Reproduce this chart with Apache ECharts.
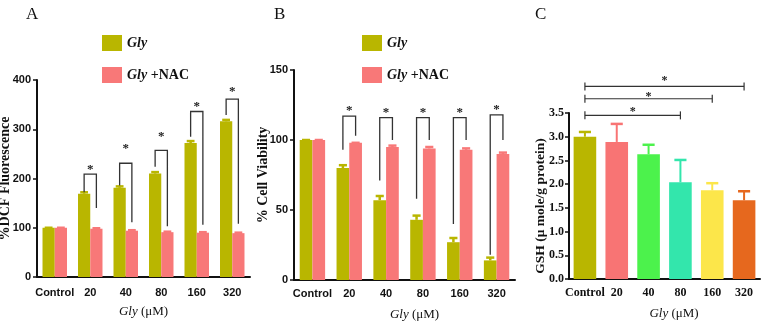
<!DOCTYPE html>
<html>
<head>
<meta charset="utf-8">
<script src="https://cdn.jsdelivr.net/npm/echarts@6/dist/echarts.min.js"></script>
<style>
  html, body { margin: 0; padding: 0; background: #fff; }
  #main { width: 762px; height: 327px; }
</style>
</head>
<body>
<div id="main"></div>
<script>
// categories shared by the three panels
const categories = ['Control', '20', '40', '80', '160', '320'];

// panel A: %DCF fluorescence
const dcfGly = [100, 169, 181, 210, 272, 316];
const dcfGlyErr = [0, 3, 3, 3, 4, 3];
const dcfNac = [100, 98, 94, 91, 90, 89];
const dcfNacErr = [0, 1, 1, 1, 1, 1];
const dcfBracketTop = [null, 209, 231, 257, 336, 361];
const dcfBracketLeft = [null, 172, 186, 224, 285, 329];
const dcfBracketRight = [null, 140, 111, 103, 106, 108];
const dcfStar = [null, 224, 266, 292, 353, 383];

// panel B: % cell viability
const viaGly = [100, 80, 57, 43, 27, 14];
const viaGlyErr = [0, 2, 3, 3, 3, 2];
const viaNac = [100, 98, 95, 94, 93, 90];
const viaNacErr = [0, 0, 1, 1, 1, 1];
const viaBracketTop = [null, 117, 116, 116, 116, 118];
const viaBracketLeft = [null, 93, 71, 58, 40, 18];
const viaBracketRight = [null, 103, 100, 100, 100, 100];
const viaStar = [null, 123, 122, 122, 122, 124];

// panel C: GSH
const gsh = [3.0, 2.89, 2.63, 2.04, 1.87, 1.66];
const gshErr = [0.1, 0.38, 0.2, 0.47, 0.15, 0.19];
const gshColors = ['#B9B600', '#F87474', '#4CF24C', '#33E6AC', '#FCE64A', '#E6681E'];
// significance lines: from Control to category index, at height, star height
const gshSigEnd = [5, 4, 3];
const gshSigY = [4.06, 3.8, 3.45];
const gshSigStar = [4.24, 3.9, 3.59];

const GLY = '#B9B600';
const NAC = '#F87878';
const SERIF = "'Liberation Serif', 'Times New Roman', serif";
const SANS = "'Liberation Sans Narrow', 'Liberation Sans', Arial, sans-serif";
const HALF = 0.1725; // bar centre offset as a share of the band width

const chart = echarts.init(document.getElementById('main'), null, { renderer: 'canvas' });

function errBars(side, capShare, width) {
  return function (params, api) {
    const c = api.value(0);
    const v = api.value(1);
    const e = api.value(2);
    const bw = api.size([1, 0])[0];
    const p0 = api.coord([c, v]);
    const p1 = api.coord([c, v + e]);
    const x = p0[0] + side * bw * HALF;
    const cap = bw * capShare / 2;
    return {
      type: 'group',
      children: [
        { type: 'line', shape: { x1: x, y1: p0[1], x2: x, y2: p1[1] }, style: { stroke: api.visual('color'), lineWidth: width } },
        { type: 'line', shape: { x1: x - cap, y1: p1[1], x2: x + cap, y2: p1[1] }, style: { stroke: api.visual('color'), lineWidth: width } }
      ]
    };
  };
}

function bracket(params, api) {
  const c = api.value(0);
  const top = api.coord([c, api.value(1)]);
  const yl = api.coord([c, api.value(2)])[1];
  const yr = api.coord([c, api.value(3)])[1];
  const ys = api.coord([c, api.value(4)])[1];
  const bw = api.size([1, 0])[0];
  const xl = top[0] - bw * HALF;
  const xr = top[0] + bw * HALF;
  return {
    type: 'group',
    children: [
      { type: 'polyline', shape: { points: [[xl, yl], [xl, top[1]], [xr, top[1]], [xr, yr]] },
        style: { stroke: '#333', lineWidth: 1.3, fill: null } },
      { type: 'text', style: { text: '*', x: (xl + xr) / 2, y: ys + 3, align: 'center', verticalAlign: 'middle',
        font: 'bold 13px ' + SERIF, fill: '#222' } }
    ]
  };
}

function sigLine(params, api) {
  const a = api.coord([0, api.value(1)]);
  const b = api.coord([api.value(0), api.value(1)]);
  const s = api.coord([0, api.value(2)]);
  return {
    type: 'group',
    children: [
      { type: 'line', shape: { x1: a[0], y1: a[1], x2: b[0], y2: b[1] }, style: { stroke: '#333', lineWidth: 1.2 } },
      { type: 'line', shape: { x1: a[0], y1: a[1] - 4, x2: a[0], y2: a[1] + 4 }, style: { stroke: '#333', lineWidth: 1.2 } },
      { type: 'line', shape: { x1: b[0], y1: b[1] - 4, x2: b[0], y2: b[1] + 4 }, style: { stroke: '#333', lineWidth: 1.2 } },
      { type: 'text', style: { text: '*', x: (a[0] + b[0]) / 2, y: s[1] + 3, align: 'center', verticalAlign: 'middle',
        font: 'bold 12px ' + SERIF, fill: '#222' } }
    ]
  };
}

const pick = (arr, ...rest) => arr.map((v, i) => [i, v, ...rest.map(r => r[i])]).filter(d => d[1] != null);

const xBase = (gridIndex, extra) => Object.assign({
  type: 'category',
  gridIndex: gridIndex,
  data: categories,
  axisTick: { show: false },
  axisLine: { lineStyle: { color: '#111', width: 2 } },
  axisLabel: { color: '#111', fontFamily: SANS, fontWeight: 'bold', fontSize: 11, margin: 10, interval: 0 },
  name: '{i|Gly} (μM)',
  nameLocation: 'middle',
  nameGap: 28,
  nameMoveOverlap: false,
  nameTextStyle: { color: '#111', fontFamily: SERIF, fontSize: 13, rich: { i: { fontStyle: 'italic', fontFamily: SERIF, fontSize: 13, color: '#111' } } }
}, extra || {});

const yBase = (gridIndex, max, interval, name, gap, extra) => Object.assign({
  type: 'value',
  gridIndex: gridIndex,
  min: 0,
  max: max,
  interval: interval,
  splitLine: { show: false },
  axisLine: { show: true, lineStyle: { color: '#111', width: 2 } },
  axisTick: { show: true, length: 4, lineStyle: { color: '#111', width: 1.5 } },
  axisLabel: { color: '#111', fontFamily: SANS, fontWeight: 'bold', fontSize: 11, margin: 6 },
  name: name,
  nameLocation: 'middle',
  nameGap: gap,
  nameMoveOverlap: false,
  nameTextStyle: { color: '#111', fontFamily: SERIF, fontWeight: 'bold', fontSize: 14 }
}, extra || {});

const legendBase = (left) => ({
  data: ['Gly', 'Gly +NAC'],
  orient: 'vertical',
  left: left,
  top: 30,
  itemWidth: 20,
  itemHeight: 16,
  itemGap: 16,
  icon: 'rect',
  formatter: (n) => n === 'Gly' ? '{i|Gly}' : '{i|Gly} +NAC',
  textStyle: {
    color: '#111', fontFamily: SERIF, fontWeight: 'bold', fontSize: 14,
    rich: { i: { fontStyle: 'italic', fontWeight: 'bold', fontFamily: SERIF, fontSize: 14, color: '#111' } }
  }
});

const option = {
  animation: false,
  backgroundColor: '#fff',
  title: [
    { text: 'A', left: 21, top: 1, textStyle: { fontFamily: SERIF, fontWeight: 'normal', fontSize: 17, color: '#111' } },
    { text: 'B', left: 269, top: 1, textStyle: { fontFamily: SERIF, fontWeight: 'normal', fontSize: 17, color: '#111' } },
    { text: 'C', left: 530, top: 1, textStyle: { fontFamily: SERIF, fontWeight: 'normal', fontSize: 17, color: '#111' } }
  ],
  legend: [legendBase(97), legendBase(357)],
  grid: [
    { left: 37, top: 80, width: 213, height: 197, outerBoundsMode: 'none' },
    { left: 294, top: 70, width: 221, height: 210, outerBoundsMode: 'none' },
    { left: 569, top: 113, width: 191, height: 166, outerBoundsMode: 'none' }
  ],
  xAxis: [
    xBase(0),
    xBase(1, { axisLabel: { color: '#111', fontFamily: SANS, fontWeight: 'bold', fontSize: 11, margin: 8, interval: 0 },
      nameTextStyle: { color: '#111', fontFamily: SERIF, fontSize: 13, padding: [0, 0, 0, 20],
      rich: { i: { fontStyle: 'italic', fontFamily: SERIF, fontSize: 13, color: '#111' } } } }),
    xBase(2, { axisLabel: { color: '#111', fontFamily: SERIF, fontWeight: 'bold', fontSize: 12, margin: 8, interval: 0 },
      nameTextStyle: { color: '#111', fontFamily: SERIF, fontSize: 13, padding: [0, 0, 0, 19],
      rich: { i: { fontStyle: 'italic', fontFamily: SERIF, fontSize: 13, color: '#111' } } } })
  ],
  yAxis: [
    yBase(0, 400, 100, '%DCF Fluorescence', 25),
    yBase(1, 150, 50, '% Cell Viability', 24),
    yBase(2, 3.5, 0.5, 'GSH (μ mole/g protein)', 21, {
      axisLabel: { color: '#111', fontFamily: SERIF, fontWeight: 'bold', fontSize: 12, margin: 5, formatter: (v) => v.toFixed(1) },
      nameTextStyle: { color: '#111', fontFamily: SERIF, fontWeight: 'bold', fontSize: 13.5, padding: [0, 20, 0, 0] }
    })
  ],
  series: [
    { name: 'Gly', type: 'bar', xAxisIndex: 0, yAxisIndex: 0, data: dcfGly, barGap: '0%', barCategoryGap: '31%', itemStyle: { color: GLY } },
    { name: 'Gly +NAC', type: 'bar', xAxisIndex: 0, yAxisIndex: 0, data: dcfNac, barGap: '0%', barCategoryGap: '31%', itemStyle: { color: NAC } },
    { name: 'Gly', type: 'bar', xAxisIndex: 1, yAxisIndex: 1, data: viaGly, barGap: '0%', barCategoryGap: '31%', itemStyle: { color: GLY } },
    { name: 'Gly +NAC', type: 'bar', xAxisIndex: 1, yAxisIndex: 1, data: viaNac, barGap: '0%', barCategoryGap: '31%', itemStyle: { color: NAC } },
    { name: 'GSH', type: 'bar', xAxisIndex: 2, yAxisIndex: 2, barCategoryGap: '29%',
      data: gsh.map((v, i) => ({ value: v, itemStyle: { color: gshColors[i] } })) },

    { name: 'errA1', type: 'custom', xAxisIndex: 0, yAxisIndex: 0, z: 3, itemStyle: { color: GLY },
      renderItem: errBars(-1, 0.22, 2.5), data: pick(dcfGly, dcfGlyErr) },
    { name: 'errA2', type: 'custom', xAxisIndex: 0, yAxisIndex: 0, z: 3, itemStyle: { color: NAC },
      renderItem: errBars(1, 0.22, 2.5), data: pick(dcfNac, dcfNacErr) },
    { name: 'errB1', type: 'custom', xAxisIndex: 1, yAxisIndex: 1, z: 3, itemStyle: { color: GLY },
      renderItem: errBars(-1, 0.22, 2.5), data: pick(viaGly, viaGlyErr) },
    { name: 'errB2', type: 'custom', xAxisIndex: 1, yAxisIndex: 1, z: 3, itemStyle: { color: NAC },
      renderItem: errBars(1, 0.22, 2.5), data: pick(viaNac, viaNacErr) },
    { name: 'errC', type: 'custom', xAxisIndex: 2, yAxisIndex: 2, z: 3,
      renderItem: function (params, api) {
        const c = api.value(0);
        const p0 = api.coord([c, api.value(1)]);
        const p1 = api.coord([c, api.value(1) + api.value(2)]);
        const cap = api.size([1, 0])[0] * 0.19;
        const col = gshColors[c];
        return { type: 'group', children: [
          { type: 'line', shape: { x1: p0[0], y1: p0[1], x2: p0[0], y2: p1[1] }, style: { stroke: col, lineWidth: 2 } },
          { type: 'line', shape: { x1: p0[0] - cap, y1: p1[1], x2: p0[0] + cap, y2: p1[1] }, style: { stroke: col, lineWidth: 2.5 } }
        ] };
      },
      data: pick(gsh, gshErr) },

    { name: 'sigA', type: 'custom', xAxisIndex: 0, yAxisIndex: 0, z: 4, clip: false, renderItem: bracket,
      data: pick(dcfBracketTop, dcfBracketLeft, dcfBracketRight, dcfStar) },
    { name: 'sigB', type: 'custom', xAxisIndex: 1, yAxisIndex: 1, z: 4, clip: false, renderItem: bracket,
      data: pick(viaBracketTop, viaBracketLeft, viaBracketRight, viaStar) },
    { name: 'sigC', type: 'custom', xAxisIndex: 2, yAxisIndex: 2, z: 4, clip: false, renderItem: sigLine,
      data: gshSigEnd.map((e, i) => [e, gshSigY[i], gshSigStar[i]]) }
  ]
};

chart.setOption(option);
</script>
</body>
</html>
